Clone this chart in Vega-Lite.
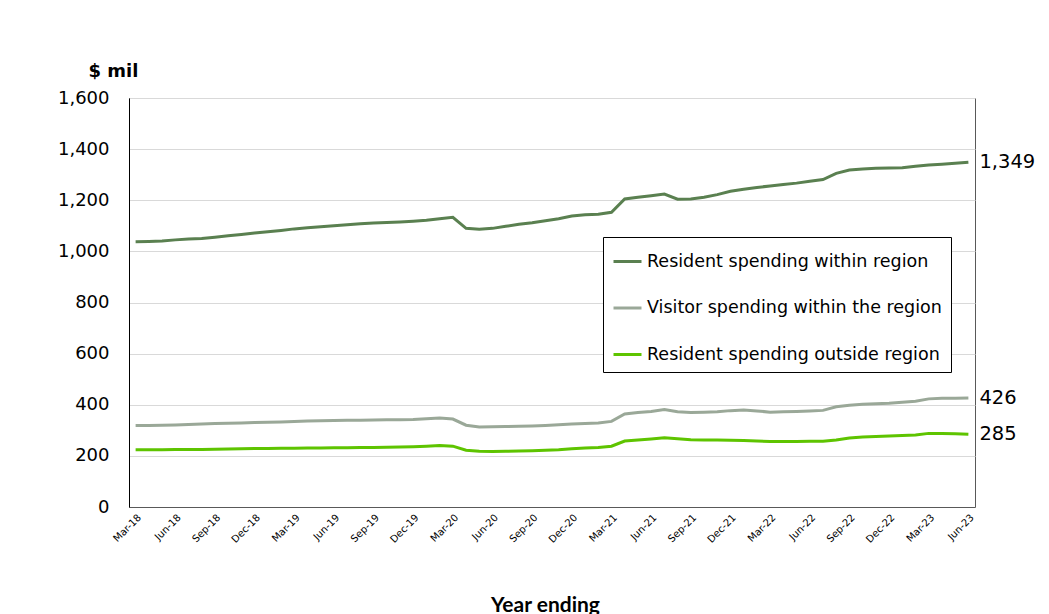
{
  "$schema": "https://vega.github.io/schema/vega-lite/v6.json",
  "width": 846,
  "height": 409,
  "autosize": "none",
  "padding": {"left": 129, "top": 98, "right": 74, "bottom": 107},
  "background": "white",
  "config": {
    "font": "DejaVu Sans",
    "view": {"stroke": "#595959", "strokeWidth": 1}
  },
  "data": {
    "values": [
      {"m":"Mar-18","r":1038,"v":319,"o":224},
      {"m":"Apr-18","r":1039,"v":319,"o":224},
      {"m":"May-18","r":1041,"v":320,"o":224},
      {"m":"Jun-18","r":1045,"v":321,"o":225},
      {"m":"Jul-18","r":1048,"v":323,"o":225},
      {"m":"Aug-18","r":1050,"v":325,"o":225},
      {"m":"Sep-18","r":1055,"v":327,"o":226},
      {"m":"Oct-18","r":1061,"v":328,"o":227},
      {"m":"Nov-18","r":1066,"v":329,"o":228},
      {"m":"Dec-18","r":1072,"v":331,"o":229},
      {"m":"Jan-19","r":1077,"v":332,"o":229},
      {"m":"Feb-19","r":1082,"v":333,"o":230},
      {"m":"Mar-19","r":1088,"v":334,"o":230},
      {"m":"Apr-19","r":1092,"v":336,"o":231},
      {"m":"May-19","r":1096,"v":337,"o":231},
      {"m":"Jun-19","r":1100,"v":338,"o":232},
      {"m":"Jul-19","r":1104,"v":339,"o":232},
      {"m":"Aug-19","r":1108,"v":339,"o":233},
      {"m":"Sep-19","r":1111,"v":340,"o":233},
      {"m":"Oct-19","r":1113,"v":341,"o":234},
      {"m":"Nov-19","r":1115,"v":341,"o":235},
      {"m":"Dec-19","r":1118,"v":342,"o":236},
      {"m":"Jan-20","r":1122,"v":345,"o":238},
      {"m":"Feb-20","r":1128,"v":348,"o":241},
      {"m":"Mar-20","r":1133,"v":344,"o":238},
      {"m":"Apr-20","r":1090,"v":320,"o":222},
      {"m":"May-20","r":1087,"v":313,"o":218},
      {"m":"Jun-20","r":1090,"v":314,"o":217},
      {"m":"Jul-20","r":1098,"v":315,"o":218},
      {"m":"Aug-20","r":1106,"v":316,"o":219},
      {"m":"Sep-20","r":1112,"v":317,"o":220},
      {"m":"Oct-20","r":1120,"v":319,"o":222},
      {"m":"Nov-20","r":1128,"v":322,"o":224},
      {"m":"Dec-20","r":1138,"v":325,"o":228},
      {"m":"Jan-21","r":1143,"v":327,"o":231},
      {"m":"Feb-21","r":1145,"v":329,"o":233},
      {"m":"Mar-21","r":1153,"v":335,"o":238},
      {"m":"Apr-21","r":1205,"v":364,"o":258},
      {"m":"May-21","r":1212,"v":370,"o":262},
      {"m":"Jun-21","r":1218,"v":374,"o":266},
      {"m":"Jul-21","r":1224,"v":381,"o":271},
      {"m":"Aug-21","r":1204,"v":373,"o":267},
      {"m":"Sep-21","r":1205,"v":370,"o":263},
      {"m":"Oct-21","r":1212,"v":371,"o":262},
      {"m":"Nov-21","r":1222,"v":373,"o":262},
      {"m":"Dec-21","r":1235,"v":377,"o":261},
      {"m":"Jan-22","r":1243,"v":379,"o":260},
      {"m":"Feb-22","r":1250,"v":376,"o":258},
      {"m":"Mar-22","r":1256,"v":371,"o":256},
      {"m":"Apr-22","r":1262,"v":373,"o":256},
      {"m":"May-22","r":1267,"v":374,"o":256},
      {"m":"Jun-22","r":1274,"v":376,"o":257},
      {"m":"Jul-22","r":1281,"v":378,"o":257},
      {"m":"Aug-22","r":1305,"v":392,"o":262},
      {"m":"Sep-22","r":1318,"v":398,"o":270},
      {"m":"Oct-22","r":1322,"v":402,"o":274},
      {"m":"Nov-22","r":1325,"v":404,"o":276},
      {"m":"Dec-22","r":1326,"v":406,"o":278},
      {"m":"Jan-23","r":1327,"v":410,"o":280},
      {"m":"Feb-23","r":1333,"v":414,"o":282},
      {"m":"Mar-23","r":1338,"v":423,"o":288},
      {"m":"Apr-23","r":1341,"v":425,"o":288},
      {"m":"May-23","r":1345,"v":425,"o":287},
      {"m":"Jun-23","r":1349,"v":426,"o":285}
    ]
  },
  "transform": [{"fold": ["r", "v", "o"], "as": ["series", "value"]}],
  "encoding": {
    "x": {
      "field": "m",
      "type": "ordinal",
      "sort": null,
      "scale": {"type": "point", "padding": 0.5},
      "axis": {
        "values": ["Mar-18","Jun-18","Sep-18","Dec-18","Mar-19","Jun-19","Sep-19","Dec-19","Mar-20","Jun-20","Sep-20","Dec-20","Mar-21","Jun-21","Sep-21","Dec-21","Mar-22","Jun-22","Sep-22","Dec-22","Mar-23","Jun-23"],
        "labelAngle": -45,
        "labelFontSize": 10,
        "labelColor": "#000",
        "labelPadding": 5,
        "ticks": false,
        "domain": true,
        "domainColor": "#595959",
        "title": "Year ending",
        "titleFont": "Lato",
        "titleFontSize": 21,
        "titleFontWeight": "bold",
        "titleColor": "#000",
        "titleAlign": "center",
        "titleBaseline": "alphabetic",
        "titleX": 416,
        "titleY": 104
      }
    },
    "y": {
      "field": "value",
      "type": "quantitative",
      "scale": {"domain": [0, 1600], "nice": false},
      "axis": {
        "values": [0, 200, 400, 600, 800, 1000, 1200, 1400, 1600],
        "format": ",d",
        "labelFontSize": 18,
        "labelColor": "#000",
        "labelPadding": 20,
        "ticks": false,
        "domainColor": "#000",
        "gridColor": "#d9d9d9",
        "title": "$ mil",
        "titleAngle": 0,
        "titleAlign": "left",
        "titleBaseline": "alphabetic",
        "titleX": -41,
        "titleY": -22,
        "titleFontSize": 18,
        "titleFontWeight": "bold",
        "titleColor": "#000"
      }
    }
  },
  "layer": [
    {
      "mark": {"type": "line", "strokeWidth": 3},
      "encoding": {
        "color": {
          "field": "series",
          "type": "nominal",
          "scale": {"domain": ["r", "v", "o"], "range": ["#5a8050", "#9aa898", "#5ec400"]},
          "legend": {
            "title": null,
            "orient": "none",
            "legendX": 474,
            "legendY": 139,
            "labelExpr": "datum.label == 'r' ? 'Resident spending within region' : datum.label == 'v' ? 'Visitor spending within the region' : 'Resident spending outside region'",
            "labelFontSize": 17.5,
            "labelLimit": 500,
            "labelColor": "#000",
            "labelOffset": 4,
            "symbolType": "stroke",
            "symbolSize": 784,
            "symbolStrokeWidth": 3,
            "rowPadding": 22.5,
            "padding": 9,
            "strokeColor": "#000",
            "fillColor": "white"
          }
        }
      }
    },
    {
      "transform": [{"filter": "datum.m == 'Jun-23'"}],
      "mark": {"type": "text", "align": "left", "baseline": "middle", "dx": 11, "fontSize": 19.5, "color": "#000"},
      "encoding": {
        "text": {"field": "value", "type": "quantitative", "format": ",d"}
      }
    }
  ]
}
